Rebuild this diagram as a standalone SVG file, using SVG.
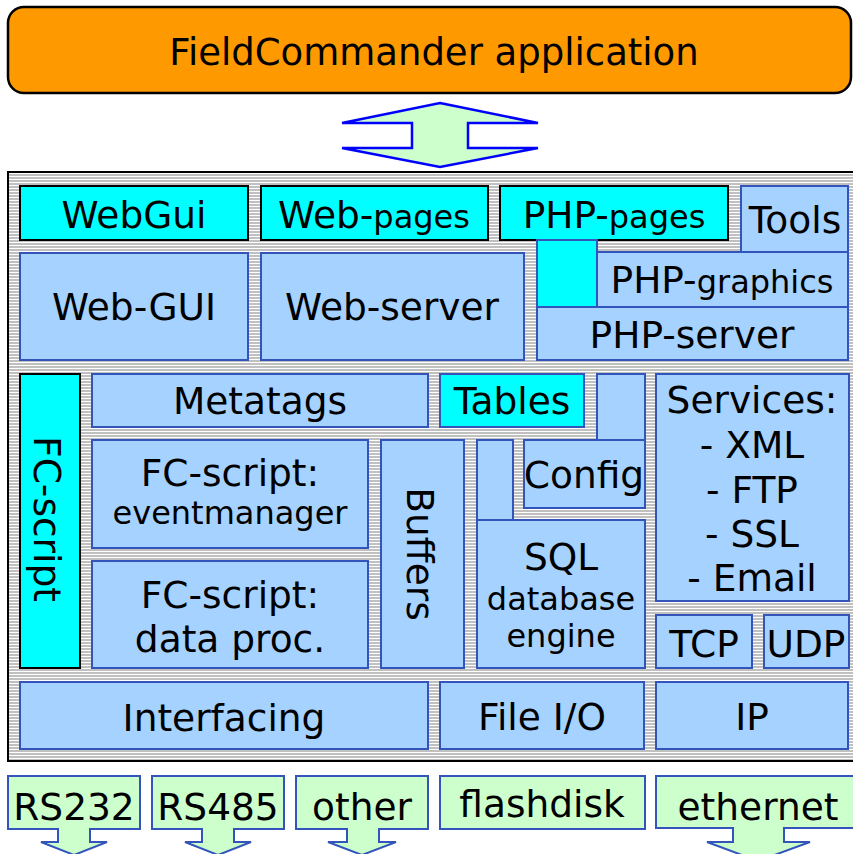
<svg xmlns="http://www.w3.org/2000/svg" width="853" height="854" viewBox="0 0 853 854">
<defs>
<pattern id="stripes" width="8" height="3" patternUnits="userSpaceOnUse">
<rect width="8" height="3" fill="#ffffff"/>
<rect width="8" height="2" fill="#c0c0c0"/>
</pattern>
</defs>
<style>
text { font-family: "DejaVu Sans", Verdana, sans-serif; fill: #000; text-anchor: middle; font-size: 37.5px; }
.title { font-size: 37px; }
.sm { font-size: 32px; }
.lb { fill: #a6d2ff; stroke: #3355bb; stroke-width: 2; }
.cy { fill: #00ffff; stroke: #000; stroke-width: 2; }
.cyb { fill: #00ffff; stroke: #3355bb; stroke-width: 2; }
.gr { fill: #ccffcc; stroke: #3355bb; stroke-width: 2; }
.arrow { fill: #ccffcc; stroke: #0000ff; stroke-width: 2.5; stroke-linejoin: miter; }
</style>
<rect width="853" height="854" fill="#ffffff"/>

<g id="app">
<rect x="8" y="7" width="843" height="86" rx="16" ry="16" fill="#ff9900" stroke="#000" stroke-width="2.5"/>
<text class="title" x="434" y="65">FieldCommander application</text>
</g>

<g id="connectors">
<polygon class="arrow" points="440,103 538,123 468,123 468,148 538,148 440,167 342,148 412,148 412,123 342,123"/>
</g>

<g id="platform">
<rect x="8" y="172" width="856" height="589" fill="url(#stripes)" stroke="#000" stroke-width="2"/>
</g>

<g id="webgui-top"><rect class="cy" x="20" y="186" width="228" height="54"/><text x="134" y="228">WebGui</text></g>
<g id="web-pages"><rect class="cy" x="261" y="186" width="227" height="54"/><text x="374" y="228">Web-<tspan class="sm">pages</tspan></text></g>
<g id="php-pages"><rect class="cy" x="500" y="186" width="228" height="54"/><text x="614" y="228">PHP-<tspan class="sm">pages</tspan></text></g>
<g id="tools"><rect class="lb" x="741" y="186" width="107" height="66"/><text x="795" y="233">Tools</text></g>

<g id="web-gui"><rect class="lb" x="20" y="253" width="228" height="107"/><text x="134" y="320">Web-GUI</text></g>
<g id="web-server"><rect class="lb" x="261" y="253" width="263" height="107"/><text x="392" y="320">Web-server</text></g>
<g id="php-server"><rect class="lb" x="537" y="307" width="311" height="53"/><text x="692" y="348">PHP-server</text></g>
<g id="php-cyan"><rect class="cyb" x="537" y="240" width="60" height="67"/></g>
<g id="php-graphics"><rect class="lb" x="597" y="252" width="251" height="55"/><text x="722" y="293">PHP-<tspan class="sm">graphics</tspan></text></g>

<g id="fc-script-side"><rect class="cy" x="20" y="374" width="60" height="294"/><text transform="translate(34,519) rotate(90)" x="0" y="0">FC-script</text></g>
<g id="metatags"><rect class="lb" x="92" y="374" width="336" height="53"/><text x="260" y="414">Metatags</text></g>
<g id="tables"><rect class="cyb" x="440" y="374" width="144" height="53"/><text x="512" y="414">Tables</text></g>
<g id="config-top"><rect class="lb" x="597" y="374" width="48" height="66"/></g>
<g id="config"><rect class="lb" x="524" y="440" width="121" height="68"/><text x="584" y="488">Config</text></g>
<g id="sql-top"><rect class="lb" x="477" y="440" width="36" height="80"/></g>
<g id="sql"><rect class="lb" x="477" y="520" width="168" height="148"/><text x="561" y="570">SQL</text><text class="sm" x="561" y="610">database</text><text class="sm" x="561" y="647">engine</text></g>
<g id="buffers"><rect class="lb" x="381" y="440" width="83" height="228"/><text transform="translate(407,554) rotate(90)" x="0" y="0">Buffers</text></g>
<g id="eventmanager"><rect class="lb" x="92" y="440" width="276" height="108"/><text x="230" y="486">FC-script:</text><text class="sm" x="230" y="524">eventmanager</text></g>
<g id="dataproc"><rect class="lb" x="92" y="561" width="276" height="107"/><text x="230" y="608">FC-script:</text><text x="230" y="652">data proc.</text></g>
<g id="services"><rect class="lb" x="656" y="374" width="193" height="227"/>
<text x="752" y="413">Services:</text><text x="752" y="458">- XML</text><text x="752" y="503">- FTP</text><text x="752" y="547">- SSL</text><text x="752" y="591">- Email</text></g>
<g id="tcp"><rect class="lb" x="656" y="615" width="96" height="53"/><text x="704" y="657">TCP</text></g>
<g id="udp"><rect class="lb" x="764" y="615" width="85" height="53"/><text x="806" y="657">UDP</text></g>

<g id="interfacing"><rect class="lb" x="20" y="682" width="408" height="67"/><text x="224" y="731">Interfacing</text></g>
<g id="fileio"><rect class="lb" x="440" y="682" width="204" height="67"/><text x="542" y="730">File I/O</text></g>
<g id="ip"><rect class="lb" x="656" y="682" width="192" height="67"/><text x="752" y="730">IP</text></g>

<g id="rs232"><path class="gr" d="M8,776 H140 V829 H90 V842 H107 L74,855 L41,842 H58 V829 H8 Z"/><text x="74" y="820">RS232</text></g>
<g id="rs485"><path class="gr" d="M152,776 H284 V829 H234 V842 H251 L218,855 L185,842 H202 V829 H152 Z"/><text x="218" y="820">RS485</text></g>
<g id="other"><path class="gr" d="M296,776 H428 V829 H379 V842 H396 L362,855 L328,842 H347 V829 H296 Z"/><text x="362" y="820">other</text></g>
<g id="flashdisk"><rect class="gr" x="440" y="776" width="205" height="53"/><text x="542" y="817">flashdisk</text></g>
<g id="ethernet"><path class="gr" d="M656,776 H862 V828 H784 V842 H810 L758,861 L707,842 H733 V828 H656 Z"/><text x="758" y="820">ethernet</text></g>
</svg>
